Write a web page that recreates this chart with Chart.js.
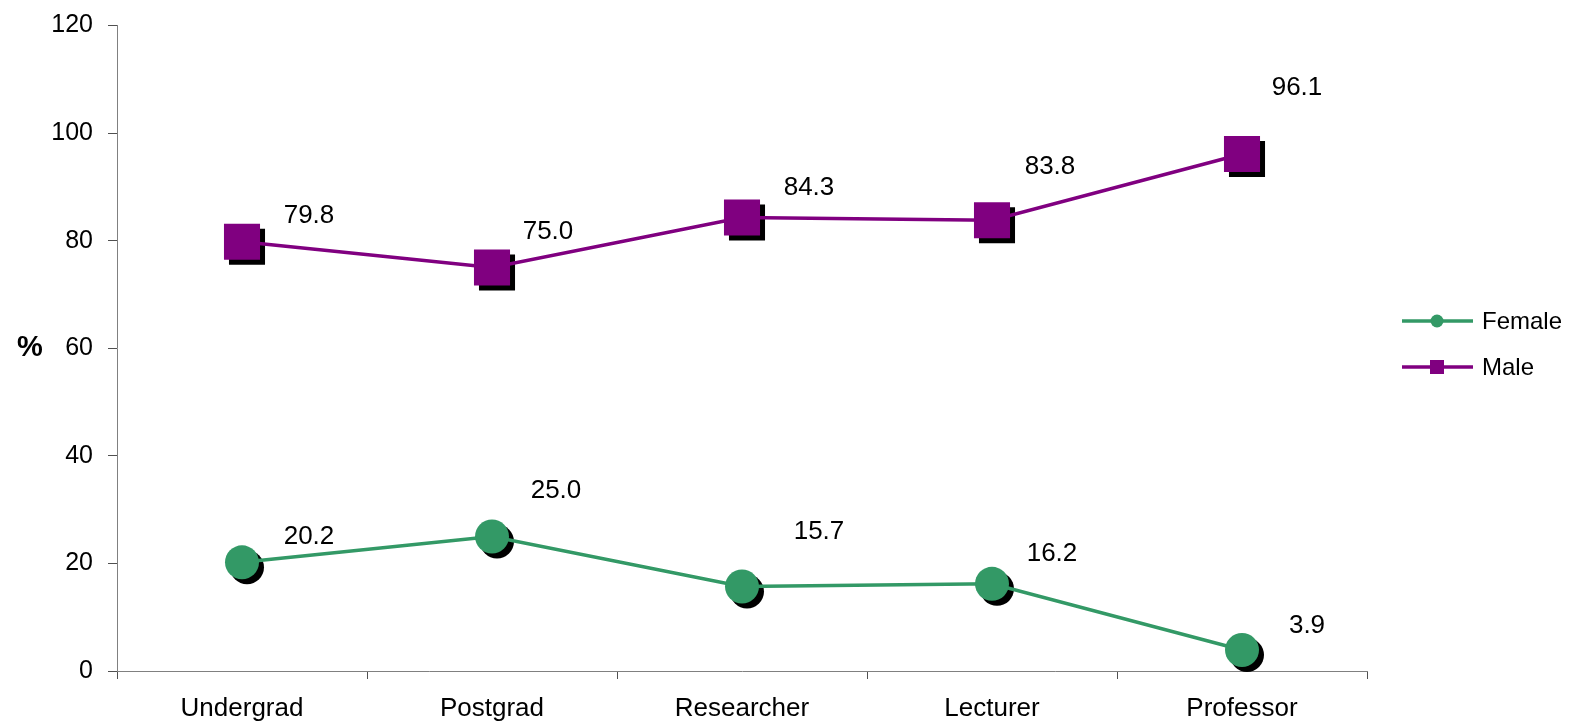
<!DOCTYPE html>
<html>
<head>
<meta charset="utf-8">
<title>Female and male shares by career stage</title>
<script src="https://cdn.jsdelivr.net/npm/chart.js@4.4.1/dist/chart.umd.min.js"></script>
<style>
  html, body { margin: 0; padding: 0; background: #ffffff; }
  #wrap { width: 1574px; height: 723px; position: relative; }
</style>
</head>
<body>
<div id="wrap"><canvas id="chart" width="1574" height="723"></canvas></div>
<script>
// Career stages along the x axis
const stages = ['Undergrad', 'Postgrad', 'Researcher', 'Lecturer', 'Professor'];

// Percentage of each group at every stage
const femaleShare = [20.2, 25.0, 15.7, 16.2, 3.9];
const maleShare = [79.8, 75.0, 84.3, 83.8, 96.1];

// Value axis ticks
const yTicks = [0, 20, 40, 60, 80, 100, 120];

// Where each value label sits relative to its marker (pixels)
const femaleLabelShift = [[67, -26], [64, -46], [77, -55], [60, -30], [65, -24]];
const maleLabelShift = [[67, -26], [56, -36], [67, -30], [58, -53], [55, -66]];

const GREEN = '#339966';
const PURPLE = '#800080';
const FONT = '"Liberation Sans", Arial, sans-serif';

// Black drop shadow under each marker, drawn before the series lines
const markerShadows = {
  id: 'markerShadows',
  beforeDatasetsDraw(chart) {
    const ctx = chart.ctx;
    ctx.save();
    ctx.fillStyle = '#000000';
    chart.data.datasets.forEach((ds, i) => {
      const meta = chart.getDatasetMeta(i);
      meta.data.forEach(pt => {
        const x = pt.x + 5, y = pt.y + 5;
        ctx.beginPath();
        if (ds.pointStyle === 'rect') {
          const h = Math.SQRT1_2 * ds.pointRadius;
          ctx.rect(x - h, y - h, 2 * h, 2 * h);
        } else {
          ctx.arc(x, y, ds.pointRadius, 0, Math.PI * 2);
        }
        ctx.fill();
      });
    });
    ctx.restore();
  }
};

// Value labels beside each marker
const valueLabels = {
  id: 'valueLabels',
  afterDatasetsDraw(chart) {
    const ctx = chart.ctx;
    ctx.save();
    ctx.font = '26px ' + FONT;
    ctx.fillStyle = '#000000';
    ctx.textAlign = 'center';
    ctx.textBaseline = 'middle';
    chart.data.datasets.forEach((ds, i) => {
      const meta = chart.getDatasetMeta(i);
      meta.data.forEach((pt, j) => {
        const s = ds.labelShift[j];
        ctx.fillText(ds.data[j].toFixed(1), pt.x + s[0], pt.y + s[1]);
      });
    });
    ctx.restore();
  }
};

// Legend with line-and-marker keys on the right, plus the "%" axis caption
const sideLegend = {
  id: 'sideLegend',
  afterDraw(chart) {
    const ctx = chart.ctx;
    ctx.save();
    const x0 = 1402, x1 = 1473, mx = 1437;
    const rows = [{ y: 321 }, { y: 367 }];
    chart.data.datasets.forEach((ds, i) => {
      const y = rows[i].y;
      ctx.strokeStyle = ds.borderColor;
      ctx.lineWidth = 3.5;
      ctx.beginPath();
      ctx.moveTo(x0, y);
      ctx.lineTo(x1, y);
      ctx.stroke();
      ctx.fillStyle = ds.borderColor;
      ctx.beginPath();
      if (ds.pointStyle === 'rect') {
        ctx.rect(mx - 7, y - 7, 14, 14);
      } else {
        ctx.arc(mx, y, 6.5, 0, Math.PI * 2);
      }
      ctx.fill();
      ctx.fillStyle = '#000000';
      ctx.font = '24px ' + FONT;
      ctx.textAlign = 'left';
      ctx.textBaseline = 'middle';
      ctx.fillText(ds.label, 1482, y + 1);
    });
    const area = chart.chartArea;
    ctx.font = 'bold 29px ' + FONT;
    ctx.textAlign = 'center';
    ctx.textBaseline = 'middle';
    ctx.fillStyle = '#000000';
    ctx.fillText('%', 30, (area.top + area.bottom) / 2);
    ctx.restore();
  }
};

new Chart(document.getElementById('chart'), {
  type: 'line',
  data: {
    labels: stages,
    datasets: [
      {
        label: 'Female',
        data: femaleShare,
        labelShift: femaleLabelShift,
        borderColor: GREEN,
        backgroundColor: GREEN,
        borderWidth: 3.5,
        pointStyle: 'circle',
        pointRadius: 17,
        pointHoverRadius: 17,
        pointBorderWidth: 0,
        pointBackgroundColor: GREEN,
        tension: 0
      },
      {
        label: 'Male',
        data: maleShare,
        labelShift: maleLabelShift,
        borderColor: PURPLE,
        backgroundColor: PURPLE,
        borderWidth: 3.5,
        pointStyle: 'rect',
        pointRadius: 25.5,
        pointHoverRadius: 25.5,
        pointBorderWidth: 0,
        pointBackgroundColor: PURPLE,
        tension: 0
      }
    ]
  },
  options: {
    responsive: false,
    animation: false,
    events: [],
    layout: { padding: { top: 23, right: 207, left: 0, bottom: 0 } },
    plugins: {
      legend: { display: false },
      tooltip: { enabled: false },
      title: { display: false }
    },
    scales: {
      x: {
        offset: true,
        afterFit(scale) {
          scale.height = 52;
          scale.paddingLeft = 0;
          scale.paddingRight = 0;
        },
        grid: {
          offset: true,
          drawOnChartArea: false,
          drawTicks: true,
          tickLength: 8,
          color: '#505050'
        },
        border: { display: true, color: '#808080', width: 1 },
        ticks: {
          color: '#000000',
          font: { family: FONT, size: 26 },
          padding: 14,
          maxRotation: 0
        }
      },
      y: {
        min: 0,
        max: 120,
        afterFit(scale) {
          scale.width = 117;
          scale.paddingTop = 0;
          scale.paddingBottom = 0;
        },
        afterBuildTicks(scale) { scale.ticks = yTicks.map(v => ({ value: v })); },
        grid: {
          drawOnChartArea: false,
          drawTicks: true,
          tickLength: 9,
          color: '#505050'
        },
        border: { display: true, color: '#808080', width: 1 },
        ticks: {
          color: '#000000',
          font: { family: FONT, size: 25 },
          padding: 15
        }
      }
    }
  },
  plugins: [markerShadows, valueLabels, sideLegend]
});
</script>
</body>
</html>
